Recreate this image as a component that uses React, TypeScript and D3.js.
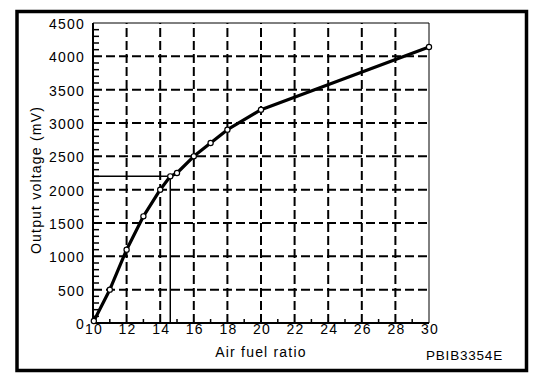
import React from 'react';
import { scaleLinear, line, curveLinear, range } from 'd3';

const d3 = { scaleLinear, line, curveLinear, range };

// air fuel ratio vs output voltage (mV)
const ratio = [10.05, 11, 12, 13, 14, 14.6, 15, 16, 17, 18, 20, 30];
const voltage = [30, 500, 1100, 1600, 2000, 2200, 2250, 2500, 2700, 2900, 3200, 4140];

const xTicks = [10, 12, 14, 16, 18, 20, 22, 24, 26, 28, 30];
const yTicks = [0, 500, 1000, 1500, 2000, 2500, 3000, 3500, 4000, 4500];

// reading guide drawn on the chart (stoichiometric point)
const guideRatio = 14.6;
const guideVoltage = 2200;

const FONT = '"Liberation Sans", Arial, Helvetica, sans-serif';

const App = () => {
    const x = d3.scaleLinear().domain([10, 30]).range([93, 429]);
    const y = d3.scaleLinear().domain([0, 4500]).range([323, 23]);

    const points = ratio.map((r, i) => ({ r, v: voltage[i] }));

    const path = d3.line<{ r: number; v: number }>()
        .x(d => x(d.r))
        .y(d => y(d.v))
        .curve(d3.curveLinear)(points);

    const minorY = d3.range(100, 4500, 100).filter(v => v % 500 !== 0);
    const minorX = d3.range(11, 30, 2);

    const textStyle = { fontFamily: FONT, fontSize: 14, letterSpacing: 1.2 };

    return (
        <svg width={560} height={384} style={{ position: 'absolute', left: 0, top: 0, background: '#fff' }}>
            {/* outer frame */}
            <rect x={17} y={11.5} width={509.5} height={359} fill="none" stroke="#000" strokeWidth={3.5} />

            {/* dashed grid */}
            {xTicks.slice(1, -1).map(t => (
                <line key={'gx' + t} x1={x(t)} x2={x(t)} y1={y(0)} y2={y(4500)}
                    stroke="#000" strokeWidth={2} strokeDasharray="9,4" />
            ))}
            {yTicks.slice(1, -1).map(t => (
                <line key={'gy' + t} x1={x(10)} x2={x(30)} y1={y(t)} y2={y(t)}
                    stroke="#000" strokeWidth={2} strokeDasharray="9,4" />
            ))}

            {/* plot border */}
            <line x1={x(10)} x2={x(30)} y1={y(4500)} y2={y(4500)} stroke="#000" strokeWidth={1} />
            <line x1={x(30)} x2={x(30)} y1={y(0)} y2={y(4500)} stroke="#000" strokeWidth={1} />
            <line x1={x(10)} x2={x(30)} y1={y(0)} y2={y(0)} stroke="#000" strokeWidth={2} />
            <line x1={x(10)} x2={x(10)} y1={y(0)} y2={y(4500)} stroke="#000" strokeWidth={2} />

            {/* minor ticks */}
            {minorY.map(v => (
                <line key={'my' + v} x1={x(10)} x2={x(10) + 6} y1={y(v)} y2={y(v)} stroke="#000" strokeWidth={1.5} />
            ))}
            {minorX.map(r => (
                <line key={'mx' + r} x1={x(r)} x2={x(r)} y1={y(0)} y2={y(0) - 4} stroke="#000" strokeWidth={1.5} />
            ))}

            {/* guide lines */}
            <line x1={x(10)} x2={x(guideRatio)} y1={y(guideVoltage)} y2={y(guideVoltage)} stroke="#000" strokeWidth={1.5} />
            <line x1={x(guideRatio)} x2={x(guideRatio)} y1={y(0)} y2={y(guideVoltage)} stroke="#000" strokeWidth={1.5} />

            {/* curve */}
            <path d={path || ''} fill="none" stroke="#000" strokeWidth={3.2} strokeLinejoin="round" />
            {points.map(p => (
                <circle key={'p' + p.r} cx={x(p.r)} cy={y(p.v)} r={2.6} fill="#fff" stroke="#000" strokeWidth={1.2} />
            ))}

            {/* tick labels */}
            {yTicks.map(t => (
                <text key={'ty' + t} x={85} y={y(t) + 6} textAnchor="end" style={textStyle}>{t}</text>
            ))}
            {xTicks.map(t => (
                <text key={'tx' + t} x={x(t) + 1} y={334} textAnchor="middle" style={textStyle}>{t}</text>
            ))}

            {/* axis titles */}
            <text x={261} y={357} textAnchor="middle" style={textStyle}>Air fuel ratio</text>
            <text transform="translate(41,180) rotate(-90)" textAnchor="middle" style={textStyle}>Output voltage (mV)</text>
            <text x={503} y={360} textAnchor="end" style={{ ...textStyle, fontSize: 13.5, letterSpacing: 0.8 }}>PBIB3354E</text>
        </svg>
    );
};

export default App;
